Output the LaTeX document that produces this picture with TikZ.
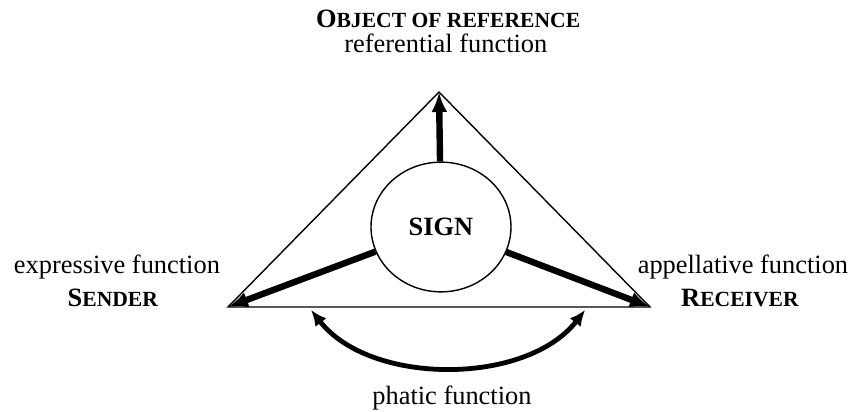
\documentclass[tikz,border=0pt]{standalone}
\usepackage{fontspec}
\setmainfont{Liberation Serif}
\usetikzlibrary{shapes.geometric,arrows.meta}
\newcommand{\fsc}[2]{#1{\fontsize{10.8}{12}\selectfont #2}}

\begin{document}
\begin{tikzpicture}[font=\fontsize{13.2}{15.8}\selectfont,
  l/.style={anchor=base,inner sep=0pt},
  t/.style={line width=0.7pt},
  a/.style={-{Latex[length=10pt,width=8pt]},line width=3.2pt},
  p/.style={{Latex[length=8pt,width=7pt]}-{Latex[length=8pt,width=7pt]},line width=2.4pt}]
  \useasboundingbox (-7.715,-1.845) rectangle (7.328,5.395);
  \coordinate (obj) at (0,3.778);
  \coordinate (snd) at (-3.708,0);
  \coordinate (rcv) at (3.708,0);
  \draw[t] (obj) -- (snd) -- (rcv) -- cycle;
  \node[draw,ellipse,t,fill=white,minimum width=2.46cm,minimum height=2.28cm,inner sep=0pt] (sign) at (0.035,1.406) {\bfseries SIGN};
  \draw[a] (sign) -- (obj);
  \draw[a] (sign) -- (snd);
  \draw[a] (sign) -- (rcv);
  \coordinate (pl) at (-2.25,-0.05);
  \coordinate (pr) at (2.57,-0.05);
  \draw[p] (pl) to[out=-52,in=-128,looseness=0.9] (pr);
  \node[l] (objl) at (0.16,4.903) {\textbf{\fsc{O}{BJECT OF REFERENCE}}};
  \node[l] (refl) at (0.12,4.464) {referential function};
  \node[l] (expl) at (-5.659,0.597) {expressive function};
  \node[l] (sndl) at (-5.73,0) {\textbf{\fsc{S}{ENDER}}};
  \node[l] (appl) at (5.342,0.597) {appellative function};
  \node[l] (rcvl) at (5.29,0) {\textbf{\fsc{R}{ECEIVER}}};
  \node[l] (phat) at (0.228,-1.722) {phatic function};
\end{tikzpicture}
\end{document}
